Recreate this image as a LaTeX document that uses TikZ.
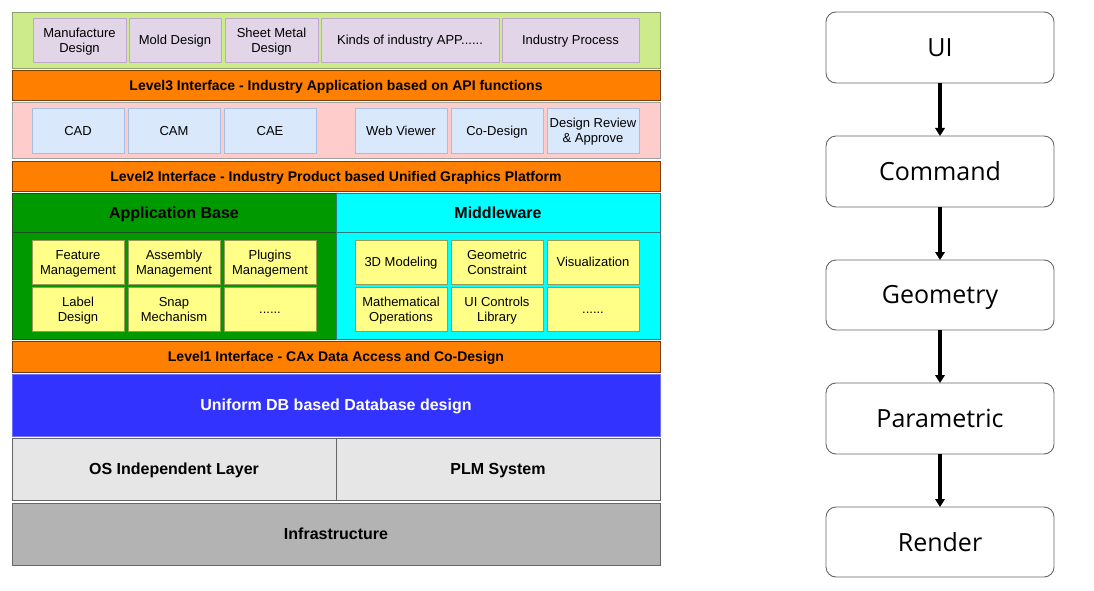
\documentclass[tikz,border=0pt]{standalone}
\usepackage{fontspec}
\setmainfont{Liberation Sans}
\newfontfamily\rfont{Open Sans}
\usetikzlibrary{arrows.meta}
\definecolor{tgreen}{HTML}{CDEB8B}
\definecolor{tgreenb}{HTML}{8FA070}
\definecolor{purp}{HTML}{E1D5E7}
\definecolor{purpb}{HTML}{BEA8CC}
\definecolor{orng}{HTML}{FF8000}
\definecolor{orngb}{HTML}{7A3D00}
\definecolor{pink}{HTML}{FFCCCC}
\definecolor{grayb}{HTML}{A0A0A0}
\definecolor{lblue}{HTML}{DAE8FC}
\definecolor{lblueb}{HTML}{A6BEDF}
\definecolor{dgreen}{HTML}{009900}
\definecolor{dgreenb}{HTML}{1F4F1F}
\definecolor{cyanf}{HTML}{00FFFF}
\definecolor{cyanb}{HTML}{2E7C7E}
\definecolor{yell}{HTML}{FFFF88}
\definecolor{yellb}{HTML}{9A9A55}
\definecolor{dbblue}{HTML}{3333FF}
\definecolor{lgray}{HTML}{E6E6E6}
\definecolor{mgray}{HTML}{B3B3B3}
\definecolor{edgeg}{HTML}{666666}
\newcommand{\sst}{\rule[-0.21em]{0pt}{1.14em}}
\newcommand{\nl}{\\\sst}
\newcommand{\bx}[7]{%
  \pgfmathsetmacro\bxw{#4-#2}\pgfmathsetmacro\bxh{#5-#3}%
  \node[#6,minimum width=\bxw pt,minimum height=\bxh pt] (#1) at ({(#2+#4)/2},{(#3+#5)/2}) {\sst #7};}
\begin{document}
\begin{tikzpicture}[x=1pt,y=-1pt,
  base/.style={rectangle,inner sep=0pt,outer sep=0pt,align=center,line width=0.8pt,font=\fontsize{13}{15}\selectfont},
  tband/.style={base,fill=tgreen,draw=tgreenb},
  pbox/.style={base,fill=purp,draw=purpb},
  lvl/.style={base,fill=orng,draw=orngb,font=\fontsize{14}{16}\selectfont\bfseries},
  pband/.style={base,fill=pink,draw=grayb},
  bbox/.style={base,fill=lblue,draw=lblueb},
  gband/.style={base,fill=dgreen,draw=dgreenb},
  cband/.style={base,fill=cyanf,draw=cyanb},
  ybox/.style={base,fill=yell,draw=yellb},
  hdr/.style={inner sep=0pt,font=\fontsize{16}{18}\selectfont\bfseries},
  dbband/.style={base,fill=dbblue,draw=dbblue!70!white,text=white,font=\fontsize{16}{18}\selectfont\bfseries},
  osband/.style={base,fill=lgray,draw=edgeg,font=\fontsize{16}{18}\selectfont\bfseries},
  infband/.style={base,fill=mgray,draw=edgeg,font=\fontsize{16}{18}\selectfont\bfseries},
  flow/.style={base,draw=edgeg,line width=0.9pt,rounded corners=10pt,fill=white,font=\rfont\fontsize{25}{28}\selectfont},
  arr/.style={line width=3.4pt,-{Triangle[length=8pt,width=9.5pt]}}]
\useasboundingbox (0,0) rectangle (1094,591);
% top band
\bx{top}{12}{12}{660}{68}{tband}{}
\bx{mfg}{33}{18}{126}{62}{pbox}{Manufacture\nl Design}
\bx{mold}{129}{18}{221}{62}{pbox}{Mold Design}
\bx{sheet}{225}{18}{318}{62}{pbox}{Sheet Metal\nl Design}
\bx{kinds}{321}{18}{499}{62}{pbox}{Kinds of industry APP......}
\bx{proc}{502}{18}{639}{62}{pbox}{Industry Process}
\bx{lthree}{12}{70}{660}{100}{lvl}{Level3 Interface - Industry Application based on API functions}
% pink band
\bx{pinkb}{12}{102}{660}{158}{pband}{}
\bx{cad}{32}{108}{124}{153}{bbox}{CAD}
\bx{cam}{128}{108}{220}{153}{bbox}{CAM}
\bx{cae}{224}{108}{316}{153}{bbox}{CAE}
\bx{web}{355}{108}{447}{153}{bbox}{Web Viewer}
\bx{codes}{451}{108}{543}{153}{bbox}{Co-Design}
\bx{review}{547}{108}{639}{153}{bbox}{Design Review\nl \& Approve}
\bx{ltwo}{12}{161}{660}{191}{lvl}{Level2 Interface - Industry Product based Unified Graphics Platform}
% application base / middleware
\bx{appb}{12}{193}{336}{339}{gband}{}
\bx{midw}{336}{193}{660}{339}{cband}{}
\draw[dgreenb,line width=0.8pt] (12,232) -- (336,232);
\draw[cyanb,line width=0.8pt] (336,232) -- (660,232);
\node[hdr] (appt) at (174,212.5) {\sst Application Base};
\node[hdr] (midt) at (498,212.5) {\sst Middleware};
\bx{feat}{32}{240}{124}{284}{ybox}{Feature\nl Management}
\bx{asm}{128}{240}{220}{284}{ybox}{Assembly\nl Management}
\bx{plug}{224}{240}{316}{284}{ybox}{Plugins\nl Management}
\bx{label}{32}{287}{124}{331}{ybox}{Label\nl Design}
\bx{snap}{128}{287}{220}{331}{ybox}{Snap\nl Mechanism}
\bx{adots}{224}{287}{316}{331}{ybox}{......}
\bx{model}{355}{240}{447}{284}{ybox}{3D Modeling}
\bx{geoc}{451}{240}{543}{284}{ybox}{Geometric\nl Constraint}
\bx{vis}{547}{240}{639}{284}{ybox}{Visualization}
\bx{math}{355}{287}{447}{331}{ybox}{Mathematical\nl Operations}
\bx{uictl}{451}{287}{543}{331}{ybox}{UI Controls\nl Library}
\bx{mdots}{547}{287}{639}{331}{ybox}{......}
\bx{lone}{12}{341}{660}{372}{lvl}{Level1 Interface - CAx Data Access and Co-Design}
\bx{db}{12}{374}{660}{436}{dbband}{Uniform DB based Database design}
\bx{os}{12}{438}{336}{500}{osband}{OS Independent Layer}
\bx{plm}{336}{438}{660}{500}{osband}{PLM System}
\bx{infra}{12}{503}{660}{565}{infband}{Infrastructure}
% right flow
\bx{ui}{826}{12}{1054}{83}{flow}{UI}
\bx{cmd}{826}{136}{1054}{207}{flow}{Command}
\bx{geo}{826}{260}{1054}{330}{flow}{Geometry}
\bx{par}{826}{383}{1054}{454}{flow}{Parametric}
\bx{ren}{826}{507}{1054}{577}{flow}{Render}
\draw[arr] (ui) -- (cmd);
\draw[arr] (cmd) -- (geo);
\draw[arr] (geo) -- (par);
\draw[arr] (par) -- (ren);
\end{tikzpicture}
\end{document}
